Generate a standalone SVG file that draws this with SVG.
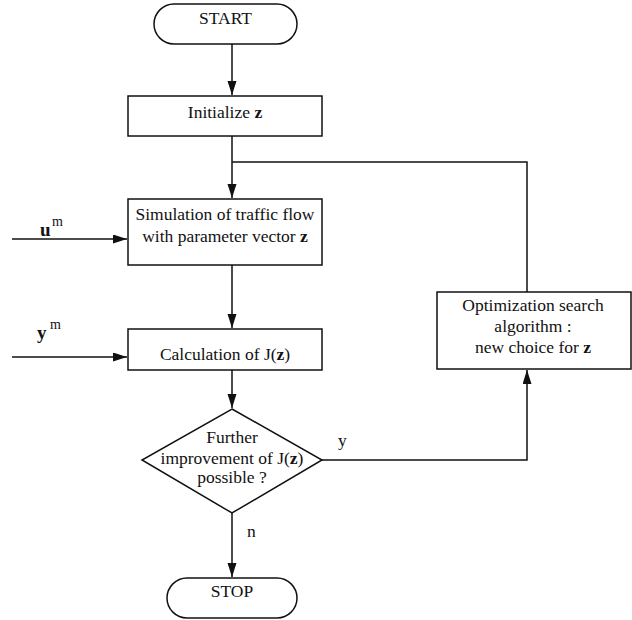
<svg xmlns="http://www.w3.org/2000/svg" width="632" height="620" viewBox="0 0 632 620">
<style>
.n{fill:#fff;stroke:#111;stroke-width:1.5}
.c{fill:none;stroke:#111;stroke-width:1.5}
text{font-family:"Liberation Serif","Times New Roman",serif;font-size:17.5px;fill:#111}
.m{text-anchor:middle}
.b{font-weight:bold}
.l{font-size:19px}
.s{font-size:14px}
</style>
<defs>
<marker id="a" markerUnits="userSpaceOnUse" markerWidth="15" markerHeight="10" refX="14" refY="4.5" orient="auto">
<path d="M0,0 L14,4.5 L0,9 Z" fill="#111"/>
</marker>
</defs>
<rect width="632" height="620" fill="#fff"/>
<g id="connectors">
<path class="c" d="M232,44 V95" marker-end="url(#a)"/>
<path class="c" d="M232,136 V198" marker-end="url(#a)"/>
<path class="c" d="M527,292 V162 H232"/>
<path class="c" d="M12,239 H127" marker-end="url(#a)"/>
<path class="c" d="M232,265 V328" marker-end="url(#a)"/>
<path class="c" d="M12,357 H127" marker-end="url(#a)"/>
<path class="c" d="M232,370 V408" marker-end="url(#a)"/>
<path class="c" d="M322,460 H527 V370" marker-end="url(#a)"/>
<path class="c" d="M232,513 V577" marker-end="url(#a)"/>
<text x="338" y="446">y</text>
<text x="247" y="537">n</text>
<text x="40" y="236" class="b l">u</text><text x="52" y="226" class="s">m</text>
<text x="37" y="339" class="b l">y</text><text x="50" y="329" class="s">m</text>
</g>
<g id="start">
<rect class="n" x="154" y="4" width="143" height="40" rx="20" ry="20"/>
<text x="225.5" y="24" class="m">START</text>
</g>
<g id="init">
<rect class="n" x="128" y="96" width="194" height="40"/>
<text x="225" y="118" class="m">Initialize <tspan class="b">z</tspan></text>
</g>
<g id="simulation">
<rect class="n" x="128" y="199" width="194" height="66"/>
<text x="225" y="220" class="m">Simulation of traffic flow</text>
<text x="225" y="242" class="m">with parameter vector <tspan class="b">z</tspan></text>
</g>
<g id="calculation">
<rect class="n" x="128" y="329" width="194" height="41"/>
<text x="225" y="360" class="m">Calculation of J(<tspan class="b">z</tspan>)</text>
</g>
<g id="decision">
<path class="n" d="M232,409 L322,460 L232,513 L142,460 Z"/>
<text x="232" y="443" class="m">Further</text>
<text x="232" y="464" class="m">improvement of J(<tspan class="b">z</tspan>)</text>
<text x="232" y="483" class="m">possible ?</text>
</g>
<g id="optimization">
<rect class="n" x="437" y="292" width="194" height="77"/>
<text x="533" y="311" class="m">Optimization search</text>
<text x="533" y="332" class="m">algorithm :</text>
<text x="533" y="353" class="m">new choice for <tspan class="b">z</tspan></text>
</g>
<g id="stop">
<rect class="n" x="167" y="578" width="130" height="40" rx="20" ry="20"/>
<text x="232" y="597" class="m">STOP</text>
</g>
</svg>
